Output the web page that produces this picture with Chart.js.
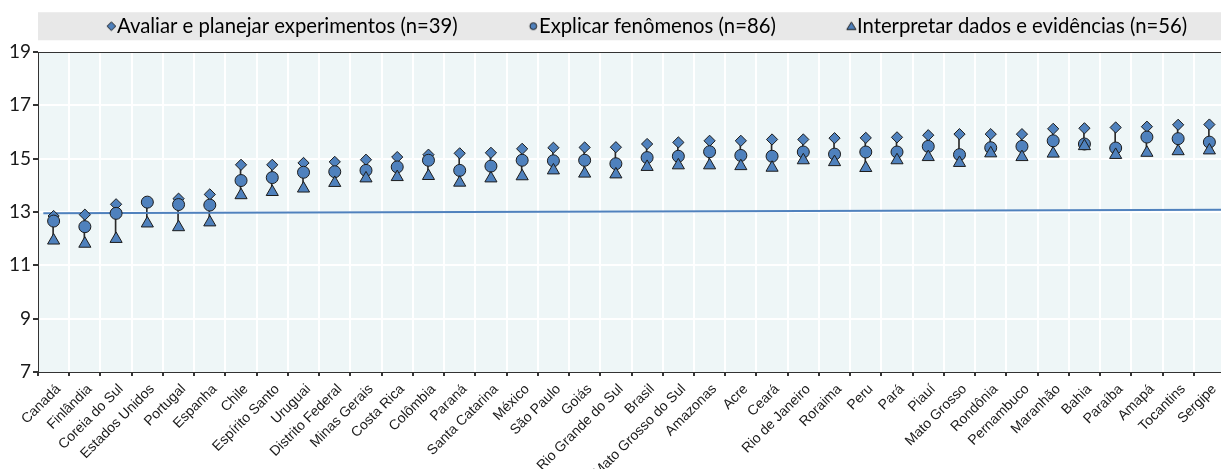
<!DOCTYPE html>
<html><head><meta charset="utf-8">
<script src="https://cdn.jsdelivr.net/npm/chart.js@4"></script>
<style>
html,body{margin:0;padding:0;background:#fff;overflow:hidden;}
#wrap{width:1221px;height:469px;overflow:hidden;position:relative;}
canvas{display:block;}
</style>
</head><body>
<div id="wrap"><canvas id="c" width="1233" height="469"></canvas></div>
<script>
const categorias = ["Canadá","Finlândia","Coreia do Sul","Estados Unidos","Portugal","Espanha","Chile","Espírito Santo","Uruguai","Distrito Federal","Minas Gerais","Costa Rica","Colômbia","Paraná","Santa Catarina","México","São Paulo","Goiás","Rio Grande do Sul","Brasil","Mato Grosso do Sul","Amazonas","Acre","Ceará","Rio de Janeiro","Roraima","Peru","Pará","Piauí","Mato Grosso","Rondônia","Pernambuco","Maranhão","Bahia","Paraíba","Amapá","Tocantins","Sergipe"];

const seriesNomes = ["Avaliar e planejar experimentos (n=39)","Explicar fenômenos (n=86)","Interpretar dados e evidências (n=56)"];

const avaliar = [12.85,12.90,13.29,13.35,13.50,13.66,14.77,14.77,14.84,14.88,14.96,15.06,15.15,15.20,15.22,15.37,15.41,15.42,15.43,15.55,15.61,15.67,15.67,15.72,15.72,15.77,15.78,15.80,15.88,15.92,15.92,15.92,16.12,16.14,16.17,16.20,16.27,16.28];

const explicar = [12.66,12.45,12.95,13.37,13.28,13.26,14.18,14.29,14.49,14.51,14.56,14.69,14.94,14.56,14.72,14.94,14.92,14.94,14.81,15.04,15.09,15.26,15.12,15.09,15.25,15.17,15.25,15.25,15.46,15.15,15.41,15.46,15.67,15.55,15.40,15.81,15.75,15.62];

const interpretar = [11.93,11.81,11.99,12.57,12.43,12.61,13.63,13.75,13.88,14.09,14.26,14.31,14.35,14.10,14.26,14.34,14.56,14.44,14.41,14.69,14.75,14.75,14.72,14.66,14.94,14.87,14.65,14.94,15.06,14.84,15.20,15.06,15.19,15.47,15.14,15.22,15.28,15.31];

// reference line: start / end points, in category-index units on x
const linhaPontos = [{x: -0.33, y: 12.955}, {x: 37.5, y: 13.085}];

const yTicks = [7, 9, 11, 13, 15, 17, 19];

const azul = '#4F81BD';
const contorno = '#1c1c1c';

const faixa = categorias.map((_, i) => {
  const v = [avaliar[i], explicar[i], interpretar[i]];
  return [Math.min(...v), Math.max(...v)];
});

const LEG_FS = 20.3, LEG_PAD = 10, LEG_B = 61;
function legendImage(shape) {
  const W = Math.round(LEG_B + LEG_FS + 12), H = 14;
  const cv = document.createElement('canvas');
  cv.width = W; cv.height = H;
  const g = cv.getContext('2d');
  const cx = Math.round(W / 2 + LEG_B / 2 + LEG_FS / 2 - 6) + 0.5, cy = H / 2;
  g.fillStyle = azul; g.strokeStyle = contorno; g.lineWidth = 1;
  g.beginPath();
  if (shape === 'diamond') {
    const r = 4.3;
    g.moveTo(cx, cy - r); g.lineTo(cx + r, cy); g.lineTo(cx, cy + r); g.lineTo(cx - r, cy);
  } else if (shape === 'circle') {
    g.arc(cx, cy, 3.4, 0, Math.PI * 2);
  } else {
    g.moveTo(cx, cy - 4.2); g.lineTo(cx + 4.6, cy + 3.3); g.lineTo(cx - 4.6, cy + 3.3);
  }
  g.closePath(); g.fill(); g.stroke();
  return cv;
}
const legendImgs = [legendImage('diamond'), legendImage('circle'), legendImage('triangle')];

const bgPlugin = {
  id: 'bgPlugin',
  afterInit(chart) {
    const lg = chart.legend;
    const f = lg.fit;
    lg.fit = function () { f.call(this); this.height += 5.6; };
  },
  beforeDraw(chart) {
    const {ctx, chartArea} = chart;
    ctx.save();
    ctx.fillStyle = '#EEF6F7';
    ctx.fillRect(chartArea.left, chartArea.top, chartArea.right - chartArea.left, chartArea.bottom - chartArea.top);
    const lg = chart.legend;
    const mid = lg.top + LEG_PAD + LEG_FS / 2;
    ctx.fillStyle = '#E8E8E8';
    ctx.fillRect(chartArea.left, mid - 14, chart.width - chartArea.left, 28);
    ctx.restore();
  }
};

const ctx = document.getElementById('c').getContext('2d');
new Chart(ctx, {
  type: 'line',
  data: {
    labels: categorias,
    datasets: [
      { label: seriesNomes[2], data: interpretar, showLine: false, pointStyle: 'triangle', pointRadius: 7, pointHoverRadius: 7,
        backgroundColor: azul, borderColor: contorno, pointBorderWidth: 1, order: 1 },
      { label: seriesNomes[1], data: explicar, showLine: false, pointStyle: 'circle', pointRadius: 6, pointHoverRadius: 6,
        backgroundColor: azul, borderColor: contorno, pointBorderWidth: 1, order: 2 },
      { label: seriesNomes[0], data: avaliar, showLine: false, pointStyle: 'rectRot', pointRadius: 5.6, pointHoverRadius: 5.6,
        backgroundColor: azul, borderColor: contorno, pointBorderWidth: 1, order: 3 },
      { label: 'linha', data: linhaPontos, xAxisID: 'xl', borderColor: azul, borderWidth: 2, pointRadius: 0, order: 4 },
      { type: 'bar', label: 'faixa', data: faixa, backgroundColor: '#2a2a2a', barThickness: 1, order: 5 }
    ]
  },
  options: {
    responsive: false,
    animation: false,
    events: [],
    layout: { padding: { top: 6.1, left: 0, right: 0, bottom: 0 } },
    plugins: {
      tooltip: { enabled: false },
      legend: {
        position: 'top',
        align: 'center',
        labels: {
          usePointStyle: true,
          pointStyleWidth: LEG_B,
          boxHeight: 10,
          padding: LEG_PAD,
          color: '#1a1a1a',
          font: { family: 'Lato', size: LEG_FS },
          generateLabels: () => [0, 1, 2].map(i => ({
            text: seriesNomes[i], pointStyle: legendImgs[i], fillStyle: azul, strokeStyle: contorno,
            lineWidth: 1, hidden: false, datasetIndex: 2 - i, rotation: 0
          }))
        }
      }
    },
    scales: {
      x: {
        type: 'category',
        offset: true,
        grid: {
          offset: true,
          color: c => c.index === 0 ? 'rgba(0,0,0,0)' : '#ffffff',
          lineWidth: 2,
          tickColor: '#333',
          tickLength: 4,
          drawTicks: true
        },
        border: { display: true, color: '#333', width: 1 },
        ticks: {
          autoSkip: false, maxRotation: 45, minRotation: 45,
          font: { family: 'Liberation Sans', size: 14 }, color: '#1a1a1a', padding: 5, labelOffset: 5
        },
        afterFit(s) { s.height = 97; }
      },
      xl: {
        type: 'linear',
        display: false,
        min: -0.5,
        max: categorias.length - 0.5
      },
      x2: {
        type: 'category',
        position: 'top',
        offset: true,
        grid: { display: false, drawTicks: false },
        ticks: { display: false },
        border: { display: true, color: '#333', width: 1 }
      },
      y: {
        min: 7, max: 19,
        afterBuildTicks(s) { s.ticks = yTicks.map(v => ({ value: v })); },
        grid: {
          color: c => (c.tick && (c.tick.value === 7 || c.tick.value === 19)) ? 'rgba(0,0,0,0)' : '#ffffff',
          lineWidth: 2,
          tickColor: '#333',
          tickLength: 5,
          drawTicks: true
        },
        border: { display: true, color: '#333', width: 1 },
        ticks: { color: '#1a1a1a', font: { family: 'Lato', size: 19 }, padding: 2 },
        afterFit(s) { s.width = 38; }
      }
    }
  },
  plugins: [bgPlugin]
});
</script>
</body></html>
